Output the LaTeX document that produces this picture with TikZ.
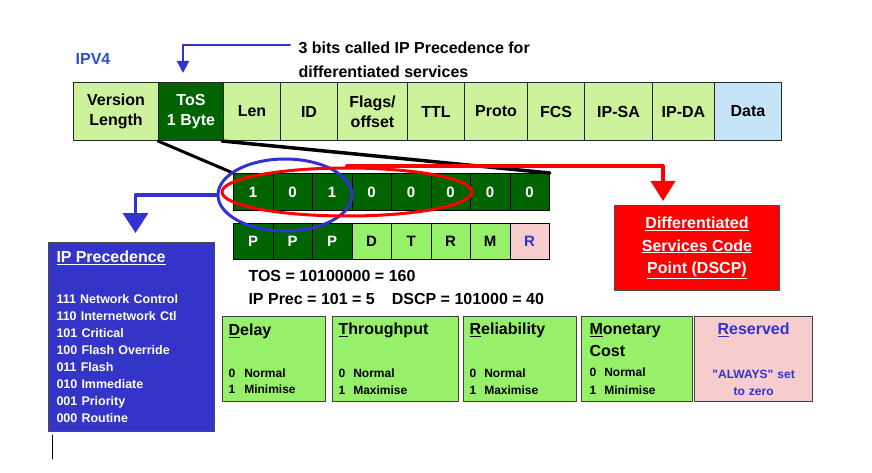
\documentclass[tikz,border=0pt]{standalone}
\usepackage{fontspec}
\setmainfont{Liberation Sans}
\usetikzlibrary{arrows.meta,shapes.geometric}

\definecolor{hdrgreen}{RGB}{204,243,155}
\definecolor{tosgreen}{RGB}{0,100,0}
\definecolor{flaggreen}{RGB}{150,240,105}
\definecolor{datablue}{RGB}{198,228,248}
\definecolor{resvpink}{RGB}{246,204,204}
\definecolor{precblue}{RGB}{52,52,200}
\definecolor{ringblue}{RGB}{50,50,210}
\definecolor{dscpred}{RGB}{255,0,0}
\definecolor{labelblue}{RGB}{40,80,200}

\newcommand\fsz[2]{\fontsize{#1}{#2}\selectfont}
\newcommand\ttlfont{\bfseries\fsz{16}{16}}

\tikzset{
  field/.style={draw=black!85,line width=1pt,anchor=north west,inner sep=0pt,
    minimum height=58pt,align=center,font=\bfseries\fsz{16}{20}},
  hdr/.style={field,fill=hdrgreen},
  tosf/.style={field,fill=tosgreen,text=white},
  datf/.style={field,fill=datablue},
  bit/.style={draw=black,line width=0.8pt,fill=tosgreen,text=white,anchor=north west,
    inner sep=0pt,minimum width=39.5pt,minimum height=37pt,font=\bfseries\fsz{15}{18}},
  flagp/.style={bit,minimum height=36pt},
  flagd/.style={flagp,fill=flaggreen,text=black},
  flagr/.style={flagp,fill=resvpink,text=ringblue},
  ring/.style={ellipse,line width=3pt,inner sep=0pt},
  tobox/.style={draw=black!75,line width=1.2pt,fill=flaggreen,anchor=north west,
    inner xsep=6pt,inner ysep=0pt,minimum height=85pt,align=left,
    font=\bfseries\fsz{12}{16}}
}

\begin{document}
\begin{tikzpicture}[x=1pt,y=-1pt,line cap=round,line join=round]
  \useasboundingbox (0,0) rectangle (872,473);
  \fill[white] (0,0) rectangle (872,473);

  % IPv4 header fields
  \node[text=labelblue,font=\bfseries\fsz{16}{20}] (ipv4) at (93,59) {IPV4};
  \foreach \n/\xa/\xb/\sty/\txt in {ver/73/158/hdr/{Version\\Length},
    tos/158/223/tosf/{ToS\\1 Byte},len/223/280/hdr/Len,id/280/337/hdr/ID,
    flg/337/407/hdr/{Flags/\\offset},ttl/407/464/hdr/TTL,pro/464/527/hdr/Proto,
    fcs/527/584/hdr/FCS,sa/584/652/hdr/IP-SA,da/652/714/hdr/IP-DA,
    dat/714/781/datf/Data}
    \node[\sty,minimum width={(\xb-\xa)*1pt}] (\n) at (\xa,82) {\txt};

  \node[anchor=west,align=left,font=\bfseries\fsz{16}{24}] (note) at (295,60)
    {3 bits called IP Precedence for\\differentiated services};
  \coordinate (notetail) at (290,45);
  \draw[ringblue,line width=2pt,-{Triangle[width=12pt,length=12pt]},shorten >=9pt]
    (notetail) -| ([xshift=-8pt]tos.north);

  % ToS byte
  \foreach \v [count=\i from 0] in {1,0,1,0,0,0,0,0}
    \node[bit] (b\i) at ({233+39.5*\i},173) {\v};
  \draw[line width=3pt] (tos.south west) -- (b0.north west);
  \draw[line width=3.5pt] ([xshift=-2pt]tos.south east) -- (b7.north east);
  \foreach \v/\sty [count=\i from 0] in {P/flagp,P/flagp,P/flagp,D/flagd,
    T/flagd,R/flagd,M/flagd,R/flagr}
    \node[\sty] (f\i) at ({233+39.5*\i},223) {\v};

  \node[ring,draw=ringblue,minimum width=134pt,minimum height=72pt] (bluering) at (285,195) {};
  \node[ring,draw=dscpred,minimum width=250pt,minimum height=48pt] (redring) at (347,192) {};

  \node[anchor=west,align=left,font=\bfseries\fsz{16}{23}] (tosval) at (245,287)
    {TOS = 10100000 = 160\\IP Prec = 101 = 5\hspace{17pt}DSCP = 101000 = 40};

  % DSCP and precedence boxes
  \node[draw=black!70,line width=1pt,fill=dscpred,text=white,anchor=north west,
    minimum width=165pt,minimum height=85pt,inner sep=0pt,align=center,
    font=\bfseries\fsz{16}{22.5}] (dscp) at (614,205)
    {\underline{Differentiated}\\\underline{Services Code}\\\underline{Point (DSCP)}};
  \draw[dscpred,line width=4pt,-{Triangle[width=24pt,length=20pt]},shorten >=4pt]
    (redring.north) -| ([xshift=-34pt]dscp.north);

  \node[draw=black!70,line width=1pt,fill=precblue,text=white,anchor=north west,
    text width=150pt,inner xsep=8pt,inner ysep=0pt,minimum height=189pt,align=left,
    font=\bfseries\fsz{12.5}{17}] (prec) at (48,242)
    {{\fsz{16}{17}\underline{IP Precedence}}\\[24pt]
     111 Network Control\\110 Internetwork Ctl\\101 Critical\\100 Flash Override\\
     011 Flash\\010 Immediate\\001 Priority\\000 Routine};
  \draw[ringblue,line width=3.5pt,-{Triangle[width=25pt,length=20pt]},shorten >=9pt]
    (bluering.west) -| ([xshift=4pt]prec.north);
  \coordinate (tickA) at (52,435);
  \coordinate (tickB) at (52,459);
  \draw[line width=1pt] (tickA) -- (tickB);

  % meaning of the ToS bits
  \node[tobox,text width=91pt] (delay) at (222,316)
    {{\ttlfont\underline{D}elay}\\[26pt]0\hspace{9pt}Normal\\1\hspace{9pt}Minimise};
  \node[tobox,text width=114pt] (thru) at (332,316)
    {{\ttlfont\underline{T}hroughput}\\[27pt]0\hspace{8pt}Normal\\[1pt]1\hspace{8pt}Maximise};
  \node[tobox,text width=101pt] (relia) at (463,316)
    {{\ttlfont\underline{R}eliability}\\[27pt]0\hspace{8pt}Normal\\[1pt]1\hspace{8pt}Maximise};
  \node[tobox,text width=95pt,inner xsep=8pt] (money) at (581,316)
    {{\ttlfont\underline{M}onetary\\[6pt]Cost}\\[4pt]0\hspace{8pt}Normal\\[2pt]1\hspace{8pt}Minimise};
  \node[tobox,text width=106pt,fill=resvpink,text=ringblue,align=center] (resv) at (694,316)
    {{\ttlfont\underline{R}eserved}\\[28pt]\textquotedbl ALWAYS\textquotedbl{} set\\[1pt]to zero};
\end{tikzpicture}
\end{document}
